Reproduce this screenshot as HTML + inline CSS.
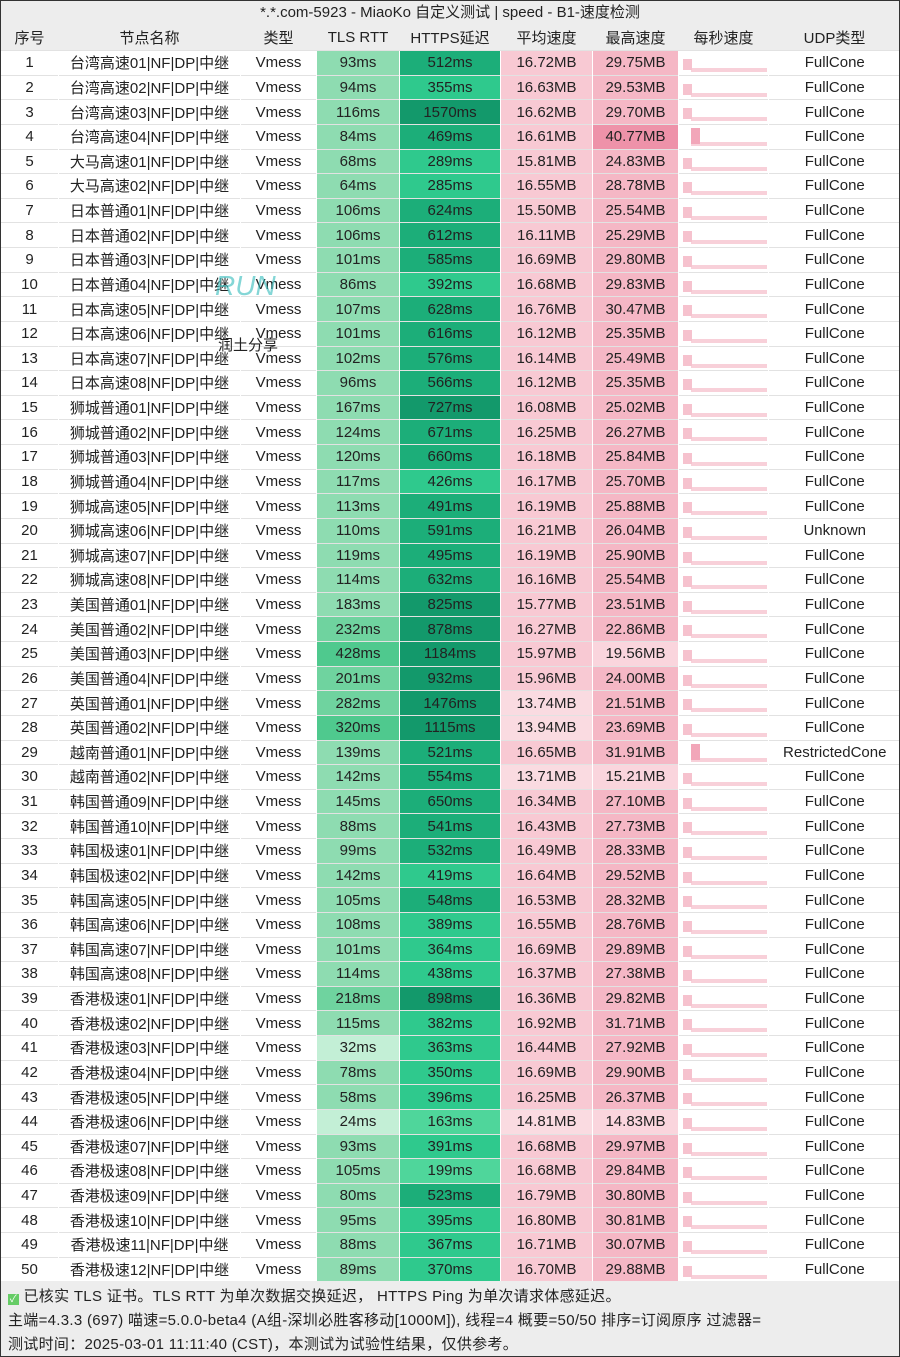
<!DOCTYPE html>
<html><head><meta charset="utf-8"><style>
body{margin:0;width:900px;height:1357px;background:#ededed;font-family:"Liberation Sans","Noto Sans CJK SC",sans-serif;color:#222;overflow:hidden;position:relative}
.frame{position:absolute;left:0;top:0;width:898px;height:1355px;border:1px solid #333}
.title{position:absolute;top:0;left:0;width:900px;height:25px;line-height:25px;text-align:center;font-size:15px}
table{position:absolute;top:25px;left:0;width:900px;border-collapse:collapse;table-layout:fixed;font-size:15px}
th{height:25px;font-weight:normal;padding:0;background:#ededed}
td{height:23.64px;padding:0;text-align:center;background:#fff;border-top:1px solid #e2e2e2;border-left:1px solid #fff;white-space:nowrap;overflow:hidden}
td.a{background:#c3efd6}td.b{background:#8edcb1}td.c{background:#6fd39f}td.d{background:#4fc98e}
td.e{background:#4fd69b}td.f{background:#2fc98d}td.g{background:#1cae79}td.h{background:#13996b}
td.p{background:#f8c9d3}td.p0{background:#fadbe1}
td.q{background:#f5b7c5}td.q0{background:#fad5dd}td.q2{background:#ee92a9}
td.s{background:linear-gradient(#f6c2ce,#f6c2ce) no-repeat 4px 8px/9px 11px,linear-gradient(#f8d0d9,#f8d0d9) no-repeat 12px 17px/76px 4px,#fff}
td.s2{background:linear-gradient(#f2a6b9,#f2a6b9) no-repeat 12px 3px/9px 16px,linear-gradient(#f8d0d9,#f8d0d9) no-repeat 12px 17px/76px 4px,#fff}
.foot{position:absolute;left:8px;font-size:15px;letter-spacing:0.3px}
.wm{position:absolute;left:215px;top:270px;color:#3bb;font-size:28px;font-style:italic;opacity:.6}
.wm2{position:absolute;left:218px;top:334px;font-size:15px;color:#222}
</style></head><body>
<div class="title">*.*.com-5923 - MiaoKo 自定义测试 | speed - B1-速度检测</div>
<table>
<colgroup><col style="width:58px"><col style="width:182px"><col style="width:76px"><col style="width:83px"><col style="width:101px"><col style="width:92px"><col style="width:86px"><col style="width:90px"><col style="width:132px"></colgroup>
<tr><th>序号</th><th>节点名称</th><th>类型</th><th>TLS RTT</th><th>HTTPS延迟</th><th>平均速度</th><th>最高速度</th><th>每秒速度</th><th>UDP类型</th></tr>
<tr><td>1</td><td>台湾高速01|NF|DP|中继</td><td>Vmess</td><td class="b">93ms</td><td class="g">512ms</td><td class="p">16.72MB</td><td class="q">29.75MB</td><td class="s"></td><td>FullCone</td></tr>
<tr><td>2</td><td>台湾高速02|NF|DP|中继</td><td>Vmess</td><td class="b">94ms</td><td class="f">355ms</td><td class="p">16.63MB</td><td class="q">29.53MB</td><td class="s"></td><td>FullCone</td></tr>
<tr><td>3</td><td>台湾高速03|NF|DP|中继</td><td>Vmess</td><td class="b">116ms</td><td class="h">1570ms</td><td class="p">16.62MB</td><td class="q">29.70MB</td><td class="s"></td><td>FullCone</td></tr>
<tr><td>4</td><td>台湾高速04|NF|DP|中继</td><td>Vmess</td><td class="b">84ms</td><td class="g">469ms</td><td class="p">16.61MB</td><td class="q2">40.77MB</td><td class="s2"></td><td>FullCone</td></tr>
<tr><td>5</td><td>大马高速01|NF|DP|中继</td><td>Vmess</td><td class="b">68ms</td><td class="f">289ms</td><td class="p">15.81MB</td><td class="q">24.83MB</td><td class="s"></td><td>FullCone</td></tr>
<tr><td>6</td><td>大马高速02|NF|DP|中继</td><td>Vmess</td><td class="b">64ms</td><td class="f">285ms</td><td class="p">16.55MB</td><td class="q">28.78MB</td><td class="s"></td><td>FullCone</td></tr>
<tr><td>7</td><td>日本普通01|NF|DP|中继</td><td>Vmess</td><td class="b">106ms</td><td class="g">624ms</td><td class="p">15.50MB</td><td class="q">25.54MB</td><td class="s"></td><td>FullCone</td></tr>
<tr><td>8</td><td>日本普通02|NF|DP|中继</td><td>Vmess</td><td class="b">106ms</td><td class="g">612ms</td><td class="p">16.11MB</td><td class="q">25.29MB</td><td class="s"></td><td>FullCone</td></tr>
<tr><td>9</td><td>日本普通03|NF|DP|中继</td><td>Vmess</td><td class="b">101ms</td><td class="g">585ms</td><td class="p">16.69MB</td><td class="q">29.80MB</td><td class="s"></td><td>FullCone</td></tr>
<tr><td>10</td><td>日本普通04|NF|DP|中继</td><td>Vmess</td><td class="b">86ms</td><td class="f">392ms</td><td class="p">16.68MB</td><td class="q">29.83MB</td><td class="s"></td><td>FullCone</td></tr>
<tr><td>11</td><td>日本高速05|NF|DP|中继</td><td>Vmess</td><td class="b">107ms</td><td class="g">628ms</td><td class="p">16.76MB</td><td class="q">30.47MB</td><td class="s"></td><td>FullCone</td></tr>
<tr><td>12</td><td>日本高速06|NF|DP|中继</td><td>Vmess</td><td class="b">101ms</td><td class="g">616ms</td><td class="p">16.12MB</td><td class="q">25.35MB</td><td class="s"></td><td>FullCone</td></tr>
<tr><td>13</td><td>日本高速07|NF|DP|中继</td><td>Vmess</td><td class="b">102ms</td><td class="g">576ms</td><td class="p">16.14MB</td><td class="q">25.49MB</td><td class="s"></td><td>FullCone</td></tr>
<tr><td>14</td><td>日本高速08|NF|DP|中继</td><td>Vmess</td><td class="b">96ms</td><td class="g">566ms</td><td class="p">16.12MB</td><td class="q">25.35MB</td><td class="s"></td><td>FullCone</td></tr>
<tr><td>15</td><td>狮城普通01|NF|DP|中继</td><td>Vmess</td><td class="b">167ms</td><td class="h">727ms</td><td class="p">16.08MB</td><td class="q">25.02MB</td><td class="s"></td><td>FullCone</td></tr>
<tr><td>16</td><td>狮城普通02|NF|DP|中继</td><td>Vmess</td><td class="b">124ms</td><td class="g">671ms</td><td class="p">16.25MB</td><td class="q">26.27MB</td><td class="s"></td><td>FullCone</td></tr>
<tr><td>17</td><td>狮城普通03|NF|DP|中继</td><td>Vmess</td><td class="b">120ms</td><td class="g">660ms</td><td class="p">16.18MB</td><td class="q">25.84MB</td><td class="s"></td><td>FullCone</td></tr>
<tr><td>18</td><td>狮城普通04|NF|DP|中继</td><td>Vmess</td><td class="b">117ms</td><td class="f">426ms</td><td class="p">16.17MB</td><td class="q">25.70MB</td><td class="s"></td><td>FullCone</td></tr>
<tr><td>19</td><td>狮城高速05|NF|DP|中继</td><td>Vmess</td><td class="b">113ms</td><td class="g">491ms</td><td class="p">16.19MB</td><td class="q">25.88MB</td><td class="s"></td><td>FullCone</td></tr>
<tr><td>20</td><td>狮城高速06|NF|DP|中继</td><td>Vmess</td><td class="b">110ms</td><td class="g">591ms</td><td class="p">16.21MB</td><td class="q">26.04MB</td><td class="s"></td><td>Unknown</td></tr>
<tr><td>21</td><td>狮城高速07|NF|DP|中继</td><td>Vmess</td><td class="b">119ms</td><td class="g">495ms</td><td class="p">16.19MB</td><td class="q">25.90MB</td><td class="s"></td><td>FullCone</td></tr>
<tr><td>22</td><td>狮城高速08|NF|DP|中继</td><td>Vmess</td><td class="b">114ms</td><td class="g">632ms</td><td class="p">16.16MB</td><td class="q">25.54MB</td><td class="s"></td><td>FullCone</td></tr>
<tr><td>23</td><td>美国普通01|NF|DP|中继</td><td>Vmess</td><td class="b">183ms</td><td class="h">825ms</td><td class="p">15.77MB</td><td class="q">23.51MB</td><td class="s"></td><td>FullCone</td></tr>
<tr><td>24</td><td>美国普通02|NF|DP|中继</td><td>Vmess</td><td class="c">232ms</td><td class="h">878ms</td><td class="p">16.27MB</td><td class="q">22.86MB</td><td class="s"></td><td>FullCone</td></tr>
<tr><td>25</td><td>美国普通03|NF|DP|中继</td><td>Vmess</td><td class="d">428ms</td><td class="h">1184ms</td><td class="p">15.97MB</td><td class="q0">19.56MB</td><td class="s"></td><td>FullCone</td></tr>
<tr><td>26</td><td>美国普通04|NF|DP|中继</td><td>Vmess</td><td class="c">201ms</td><td class="h">932ms</td><td class="p">15.96MB</td><td class="q">24.00MB</td><td class="s"></td><td>FullCone</td></tr>
<tr><td>27</td><td>英国普通01|NF|DP|中继</td><td>Vmess</td><td class="c">282ms</td><td class="h">1476ms</td><td class="p0">13.74MB</td><td class="q">21.51MB</td><td class="s"></td><td>FullCone</td></tr>
<tr><td>28</td><td>英国普通02|NF|DP|中继</td><td>Vmess</td><td class="d">320ms</td><td class="h">1115ms</td><td class="p0">13.94MB</td><td class="q">23.69MB</td><td class="s"></td><td>FullCone</td></tr>
<tr><td>29</td><td>越南普通01|NF|DP|中继</td><td>Vmess</td><td class="b">139ms</td><td class="g">521ms</td><td class="p">16.65MB</td><td class="q">31.91MB</td><td class="s2"></td><td>RestrictedCone</td></tr>
<tr><td>30</td><td>越南普通02|NF|DP|中继</td><td>Vmess</td><td class="b">142ms</td><td class="g">554ms</td><td class="p0">13.71MB</td><td class="q0">15.21MB</td><td class="s"></td><td>FullCone</td></tr>
<tr><td>31</td><td>韩国普通09|NF|DP|中继</td><td>Vmess</td><td class="b">145ms</td><td class="g">650ms</td><td class="p">16.34MB</td><td class="q">27.10MB</td><td class="s"></td><td>FullCone</td></tr>
<tr><td>32</td><td>韩国普通10|NF|DP|中继</td><td>Vmess</td><td class="b">88ms</td><td class="g">541ms</td><td class="p">16.43MB</td><td class="q">27.73MB</td><td class="s"></td><td>FullCone</td></tr>
<tr><td>33</td><td>韩国极速01|NF|DP|中继</td><td>Vmess</td><td class="b">99ms</td><td class="g">532ms</td><td class="p">16.49MB</td><td class="q">28.33MB</td><td class="s"></td><td>FullCone</td></tr>
<tr><td>34</td><td>韩国极速02|NF|DP|中继</td><td>Vmess</td><td class="b">142ms</td><td class="f">419ms</td><td class="p">16.64MB</td><td class="q">29.52MB</td><td class="s"></td><td>FullCone</td></tr>
<tr><td>35</td><td>韩国高速05|NF|DP|中继</td><td>Vmess</td><td class="b">105ms</td><td class="g">548ms</td><td class="p">16.53MB</td><td class="q">28.32MB</td><td class="s"></td><td>FullCone</td></tr>
<tr><td>36</td><td>韩国高速06|NF|DP|中继</td><td>Vmess</td><td class="b">108ms</td><td class="f">389ms</td><td class="p">16.55MB</td><td class="q">28.76MB</td><td class="s"></td><td>FullCone</td></tr>
<tr><td>37</td><td>韩国高速07|NF|DP|中继</td><td>Vmess</td><td class="b">101ms</td><td class="f">364ms</td><td class="p">16.69MB</td><td class="q">29.89MB</td><td class="s"></td><td>FullCone</td></tr>
<tr><td>38</td><td>韩国高速08|NF|DP|中继</td><td>Vmess</td><td class="b">114ms</td><td class="f">438ms</td><td class="p">16.37MB</td><td class="q">27.38MB</td><td class="s"></td><td>FullCone</td></tr>
<tr><td>39</td><td>香港极速01|NF|DP|中继</td><td>Vmess</td><td class="c">218ms</td><td class="h">898ms</td><td class="p">16.36MB</td><td class="q">29.82MB</td><td class="s"></td><td>FullCone</td></tr>
<tr><td>40</td><td>香港极速02|NF|DP|中继</td><td>Vmess</td><td class="b">115ms</td><td class="f">382ms</td><td class="p">16.92MB</td><td class="q">31.71MB</td><td class="s"></td><td>FullCone</td></tr>
<tr><td>41</td><td>香港极速03|NF|DP|中继</td><td>Vmess</td><td class="a">32ms</td><td class="f">363ms</td><td class="p">16.44MB</td><td class="q">27.92MB</td><td class="s"></td><td>FullCone</td></tr>
<tr><td>42</td><td>香港极速04|NF|DP|中继</td><td>Vmess</td><td class="b">78ms</td><td class="f">350ms</td><td class="p">16.69MB</td><td class="q">29.90MB</td><td class="s"></td><td>FullCone</td></tr>
<tr><td>43</td><td>香港极速05|NF|DP|中继</td><td>Vmess</td><td class="b">58ms</td><td class="f">396ms</td><td class="p">16.25MB</td><td class="q">26.37MB</td><td class="s"></td><td>FullCone</td></tr>
<tr><td>44</td><td>香港极速06|NF|DP|中继</td><td>Vmess</td><td class="a">24ms</td><td class="e">163ms</td><td class="p0">14.81MB</td><td class="q0">14.83MB</td><td class="s"></td><td>FullCone</td></tr>
<tr><td>45</td><td>香港极速07|NF|DP|中继</td><td>Vmess</td><td class="b">93ms</td><td class="f">391ms</td><td class="p">16.68MB</td><td class="q">29.97MB</td><td class="s"></td><td>FullCone</td></tr>
<tr><td>46</td><td>香港极速08|NF|DP|中继</td><td>Vmess</td><td class="b">105ms</td><td class="e">199ms</td><td class="p">16.68MB</td><td class="q">29.84MB</td><td class="s"></td><td>FullCone</td></tr>
<tr><td>47</td><td>香港极速09|NF|DP|中继</td><td>Vmess</td><td class="b">80ms</td><td class="g">523ms</td><td class="p">16.79MB</td><td class="q">30.80MB</td><td class="s"></td><td>FullCone</td></tr>
<tr><td>48</td><td>香港极速10|NF|DP|中继</td><td>Vmess</td><td class="b">95ms</td><td class="f">395ms</td><td class="p">16.80MB</td><td class="q">30.81MB</td><td class="s"></td><td>FullCone</td></tr>
<tr><td>49</td><td>香港极速11|NF|DP|中继</td><td>Vmess</td><td class="b">88ms</td><td class="f">367ms</td><td class="p">16.71MB</td><td class="q">30.07MB</td><td class="s"></td><td>FullCone</td></tr>
<tr><td>50</td><td>香港极速12|NF|DP|中继</td><td>Vmess</td><td class="b">89ms</td><td class="f">370ms</td><td class="p">16.70MB</td><td class="q">29.88MB</td><td class="s"></td><td>FullCone</td></tr>
</table>
<div class="wm">RUN</div><div class="wm2">润土分享</div>
<div class="foot" style="top:1285px"><span style="display:inline-block;width:11px;height:11px;background:#6c6;color:#fff;font-size:10px;line-height:11px;text-align:center;vertical-align:-1px">✓</span> 已核实 TLS 证书。TLS RTT 为单次数据交换延迟， HTTPS Ping 为单次请求体感延迟。</div>
<div class="foot" style="top:1309px">主端=4.3.3 (697) 喵速=5.0.0-beta4 (A组-深圳必胜客移动[1000M]), 线程=4 概要=50/50 排序=订阅原序 过滤器=</div>
<div class="foot" style="top:1333px">测试时间：2025-03-01 11:11:40 (CST)，本测试为试验性结果，仅供参考。</div>
<div class="frame"></div>
</body></html>
